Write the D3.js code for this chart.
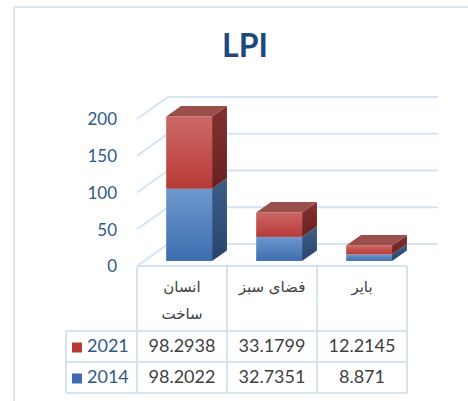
<!DOCTYPE html>
<html>
<head>
<meta charset="utf-8">
<script src="https://cdn.jsdelivr.net/npm/d3@7"></script>
<style>
  body { margin: 0; background: #fff; }
  .container { width: 468px; height: 401px; overflow: hidden; }
</style>
</head>
<body>
<div class="container"></div>
<script>
(function(){

var categories = ["انسان ساخت", "فضای سبز", "بایر"];
var categoryLines = [["انسان", "ساخت"], ["فضای سبز"], ["بایر"]];
var seriesNames = ["2014", "2021"];
var values2014 = [98.2022, 32.7351, 8.871];
var values2021 = [98.2938, 33.1799, 12.2145];
var valueLabels2014 = ["98.2022", "32.7351", "8.871"];
var valueLabels2021 = ["98.2938", "33.1799", "12.2145"];
var yTicks = [0, 50, 100, 150, 200];

var width = 468,
    height = 401,
    depthX = 31,
    depthY = -22,
    barFront = 0.23,
    barBack = 0.71,
    gridColor = "#d6e3f3";

var colors = {
  "2014": {front: ["#6e98cd", "#3c6daf"], side: ["#3d5d88", "#28446c"], top: "#5b7fb0"},
  "2021": {front: ["#cc6866", "#b83a37"], side: ["#823230", "#6a2120"], top: "#9a4f4c"}
};

window.onload = drawChart();

function drawChart(){

  var svg = d3.select(".container")
    .append("svg")
    .attr("width", width)
    .attr("height", height);

  var defs = svg.append("defs");
  seriesNames.forEach(function(s){
    ["front", "side"].forEach(function(face){
      var g = defs.append("linearGradient")
        .attr("id", "g" + s + face)
        .attr("x1", 0).attr("y1", 0).attr("x2", 0).attr("y2", 1);
      g.append("stop").attr("offset", "0%").attr("stop-color", colors[s][face][0]);
      g.append("stop").attr("offset", "100%").attr("stop-color", colors[s][face][1]);
    });
  });

  // outer frame
  svg.append("rect")
    .attr("x", 14)
    .attr("y", 7)
    .attr("width", 470)
    .attr("height", 420)
    .attr("fill", "none")
    .attr("stroke", "#dce6f2")
    .attr("stroke-width", 2);

  svg.append("text")
    .attr("x", 245)
    .attr("y", 57)
    .attr("text-anchor", "middle")
    .style("font-family", "Lato, 'Open Sans', sans-serif")
    .style("font-weight", "bold")
    .style("font-size", "32px")
    .style("fill", "#1f497d")
    .text("LPI");

  var x = d3.scaleBand()
    .domain(categories)
    .range([137, 407]);

  var y = d3.scaleLinear()
    .domain([0, 200])
    .range([266, 119]);

  // gridlines: left wall diagonal + back wall
  var grid = svg.append("g").attr("class", "grid");
  grid.selectAll("path")
    .data(yTicks)
    .enter()
    .append("path")
    .attr("d", function(d){
      return "M" + x.range()[0] + "," + y(d) +
        "L" + (x.range()[0] + depthX) + "," + (y(d) + depthY) +
        "L" + (x.range()[1] + depthX) + "," + (y(d) + depthY);
    })
    .attr("fill", "none")
    .attr("stroke", gridColor)
    .attr("stroke-width", 2);

  svg.append("g")
    .selectAll("text")
    .data(yTicks)
    .enter()
    .append("text")
    .attr("x", 117)
    .attr("y", function(d){ return y(d) + 2; })
    .attr("text-anchor", "end")
    .attr("dominant-baseline", "middle")
    .style("font-family", "Lato, 'Open Sans', sans-serif")
    .style("font-size", "17px")
    .style("fill", "#2f5a8c")
    .text(function(d){ return d; });

  // bars
  var stack = categories.map(function(c, i){
    return [
      {series: "2014", y0: 0, y1: values2014[i], cat: c},
      {series: "2021", y0: values2014[i], y1: values2014[i] + values2021[i], cat: c}
    ];
  });

  var bw = x.bandwidth() * 0.51;
  var bars = svg.append("g").attr("class", "bars");

  stack.forEach(function(segs, i){
    var fx = x(categories[i]) + x.bandwidth() * 0.245 + depthX * barFront,
        dx = depthX * (barBack - barFront),
        dy = depthY * (barBack - barFront),
        oy = depthY * barFront;
    var bar = bars.append("g");
    segs.forEach(function(d, j){
      var top = y(d.y1) + oy, bot = y(d.y0) + oy;
      bar.append("path")
        .attr("d", "M" + (fx + bw) + "," + bot + "L" + (fx + bw + dx) + "," + (bot + dy) +
          "L" + (fx + bw + dx) + "," + (top + dy) + "L" + (fx + bw) + "," + top + "Z")
        .attr("fill", "url(#g" + d.series + "side)");
      bar.append("rect")
        .attr("x", fx)
        .attr("y", top)
        .attr("width", bw)
        .attr("height", bot - top)
        .attr("fill", "url(#g" + d.series + "front)");
      if (j == segs.length - 1){
        bar.append("path")
          .attr("d", "M" + fx + "," + top + "L" + (fx + dx) + "," + (top + dy) +
            "L" + (fx + bw + dx) + "," + (top + dy) + "L" + (fx + bw) + "," + top + "Z")
          .attr("fill", colors[d.series].top);
      }
    });
  });

  // data table
  var rowTop = 266, headBottom = 331, rowH = 31, legendLeft = 66;
  var table = svg.append("g").attr("class", "table")
    .attr("stroke", gridColor)
    .attr("stroke-width", 2)
    .attr("fill", "none");

  table.append("line").attr("x1", 137).attr("x2", 407).attr("y1", rowTop).attr("y2", rowTop);
  [headBottom, headBottom + rowH, headBottom + 2 * rowH].forEach(function(yy){
    table.append("line").attr("x1", legendLeft).attr("x2", 407).attr("y1", yy).attr("y2", yy);
  });
  table.append("line").attr("x1", legendLeft).attr("x2", legendLeft)
    .attr("y1", headBottom).attr("y2", headBottom + 2 * rowH);
  categories.forEach(function(c){
    table.append("line").attr("x1", x(c)).attr("x2", x(c))
      .attr("y1", rowTop).attr("y2", headBottom + 2 * rowH);
  });
  table.append("line").attr("x1", 407).attr("x2", 407)
    .attr("y1", rowTop).attr("y2", headBottom + 2 * rowH);

  categories.forEach(function(c, i){
    categoryLines[i].forEach(function(line, k){
      svg.append("text")
        .attr("x", x(c) + x.bandwidth() / 2)
        .attr("y", 292 + k * 27)
        .attr("text-anchor", "middle")
        .attr("direction", "rtl")
        .style("font-family", "'DejaVu Sans', sans-serif")
        .style("font-size", "15px")
        .style("fill", "#404040")
        .text(line);
    });
  });

  var rows = [
    {name: "2021", labels: valueLabels2021},
    {name: "2014", labels: valueLabels2014}
  ];
  rows.forEach(function(r, k){
    var cy = headBottom + rowH * k + rowH / 2 + 1;
    svg.append("rect")
      .attr("x", 72)
      .attr("y", cy - 5)
      .attr("width", 10)
      .attr("height", 10)
      .attr("fill", colors[r.name].front[1]);
    svg.append("text")
      .attr("x", 87)
      .attr("y", cy)
      .attr("dominant-baseline", "middle")
      .style("font-family", "Lato, 'Open Sans', sans-serif")
      .style("font-size", "18px")
      .style("fill", "#2f5a8c")
      .text(r.name);
    categories.forEach(function(c, i){
      svg.append("text")
        .attr("x", x(c) + x.bandwidth() / 2)
        .attr("y", cy)
        .attr("text-anchor", "middle")
        .attr("dominant-baseline", "middle")
        .style("font-family", "Lato, 'Open Sans', sans-serif")
        .style("font-size", "18px")
        .style("fill", "#404040")
        .text(r.labels[i]);
    });
  });
};

})();
</script>
</body>
</html>
